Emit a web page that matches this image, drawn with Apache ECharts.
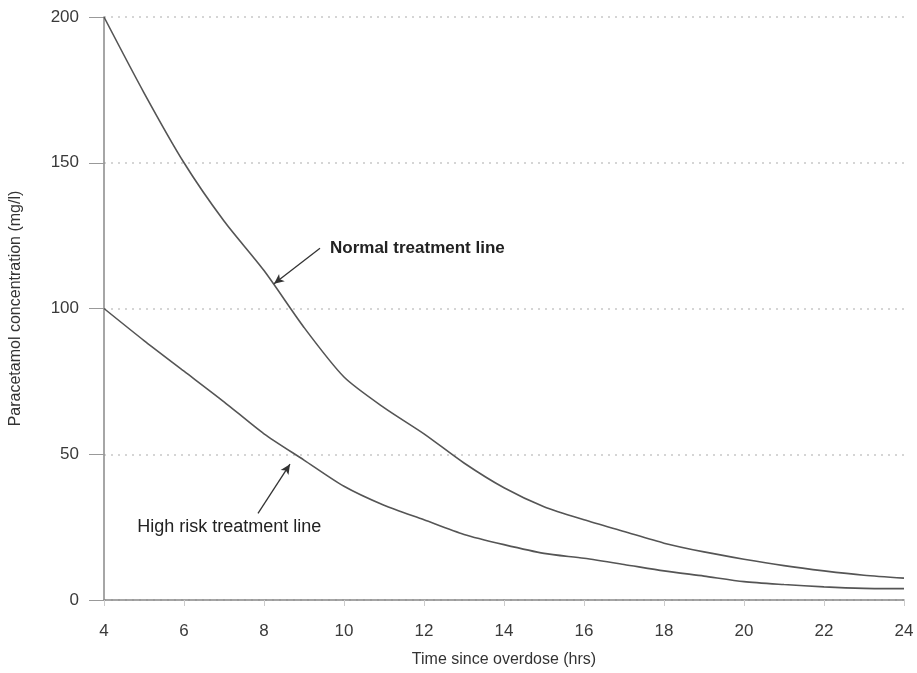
<!DOCTYPE html>
<html>
<head>
<meta charset="utf-8">
<script src="https://cdn.jsdelivr.net/npm/echarts@6/dist/echarts.min.js"></script>
<style>html,body{margin:0;padding:0;background:#fff;}#chart{width:917px;height:673px;}</style>
</head>
<body>
<div id="chart"></div>
<script>
const hours = [4,5,6,7,8,9,10,11,12,13,14,15,16,17,18,19,20,21,22,23,24];
const normalLine = [200,174,150,130,113,93.5,76.5,66,57,47,38.5,32,27.5,23.5,19.5,16.5,14,11.8,10,8.5,7.5];
const highRiskLine = [100,89,78.5,68,57,48,39,32.5,27.5,22.5,19,16,14.3,12.2,10,8.2,6.3,5.3,4.5,4,3.9];
const xTickValues = [4,6,8,10,12,14,16,18,20,22,24];
const yTickValues = [0,50,100,150,200];
const normalLabel = 'Normal treatment line';
const highRiskLabel = 'High risk treatment line';
const normalLabelAt = [9.65, 120.7];
const highRiskLabelAt = [4.83, 25.2];
const normalArrow = [[9.4, 120.7],[8.25, 108.5]];
const highRiskArrow = [[7.85, 29.7],[8.65, 46.6]];

const pairs = (xs, ys) => xs.map((x,i)=>[x, ys[i]]);
const FONT = '"Liberation Sans", Arial, sans-serif';

const chart = echarts.init(document.getElementById('chart'));
function arrowMark(a){
  return {
    silent:true, symbol:['none','arrow'], symbolSize:[7,10],
    label:{show:false},
    lineStyle:{color:'#333', width:1.3, type:'solid'},
    data:[[{coord:a[0]},{coord:a[1]}]]
  };
}
function textMark(txt, at, weight, size){
  return {
    silent:true, symbol:'circle', symbolSize:0,
    label:{show:true, position:'right', distance:0, formatter:txt, color:'#222',
      fontFamily:FONT, fontSize:size, fontWeight:weight},
    data:[{coord:at}]
  };
}
chart.setOption({
  animation:false,
  backgroundColor:'#fff',
  grid:{left:104, right:13, top:17, bottom:58},
  xAxis:{
    type:'value', min:xTickValues[0], max:xTickValues[xTickValues.length-1], interval:xTickValues[1]-xTickValues[0],
    name:'Time since overdose (hrs)', nameLocation:'middle', nameGap:52,
    nameTextStyle:{fontFamily:FONT, fontSize:16, color:'#333'},
    axisLine:{lineStyle:{color:'#888', width:1.5}},
    axisTick:{show:true, length:6, lineStyle:{color:'#ccc'}},
    axisLabel:{fontFamily:FONT, fontSize:17, color:'#3a3a3a', margin:23},
    splitLine:{show:false}
  },
  yAxis:{
    type:'value', min:yTickValues[0], max:yTickValues[yTickValues.length-1], interval:yTickValues[1]-yTickValues[0],
    name:'Paracetamol concentration (mg/l)', nameLocation:'middle', nameGap:80,
    nameTextStyle:{fontFamily:FONT, fontSize:16, color:'#333'},
    axisLine:{show:true, lineStyle:{color:'#888', width:1.5}},
    axisTick:{show:true, length:15, lineStyle:{color:'#999'}},
    axisLabel:{fontFamily:FONT, fontSize:17, color:'#3a3a3a', margin:25},
    splitLine:{show:true, lineStyle:{color:'#c8c8c8', type:[2,5], width:1.5}}
  },
  series:[
    {
      name:normalLabel, type:'line', data:pairs(hours, normalLine),
      showSymbol:false, smooth:0.25,
      lineStyle:{color:'#555', width:1.6},
      markLine:arrowMark(normalArrow),
      markPoint:textMark(normalLabel, normalLabelAt, 'bold', 17)
    },
    {
      name:highRiskLabel, type:'line', data:pairs(hours, highRiskLine),
      showSymbol:false, smooth:0.25,
      lineStyle:{color:'#555', width:1.6},
      markLine:arrowMark(highRiskArrow),
      markPoint:textMark(highRiskLabel, highRiskLabelAt, 'normal', 18)
    }
  ]
});
</script>
</body>
</html>
